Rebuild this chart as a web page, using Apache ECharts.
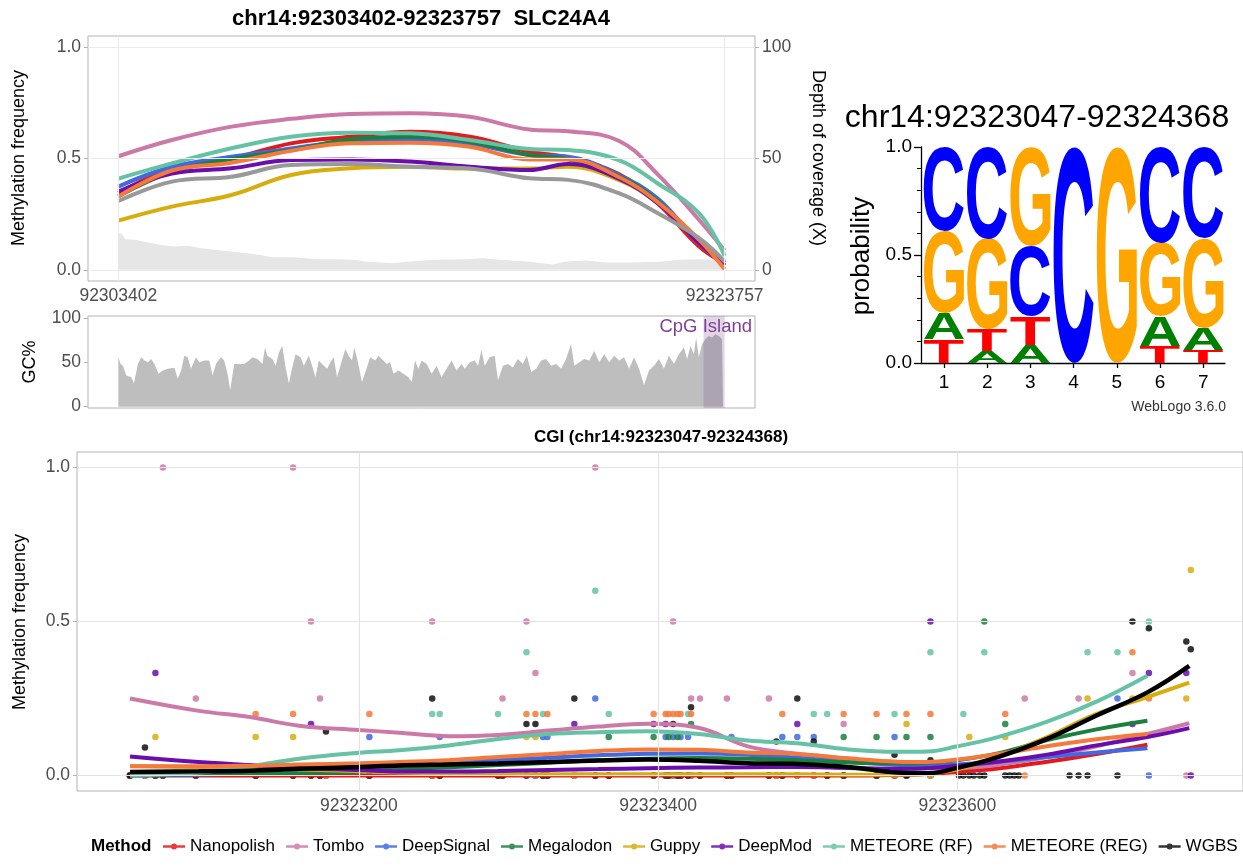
<!DOCTYPE html>
<html><head><meta charset="utf-8">
<script src="https://cdn.jsdelivr.net/npm/echarts@6/dist/echarts.min.js"></script>
<style>html,body{margin:0;padding:0;background:#fff}#c{width:1243px;height:866px}</style>
</head><body><div id="c"></div>
<script>
// ---------------- data ----------------
const methods = ['Nanopolish','Tombo','DeepSignal','Megalodon','Guppy','DeepMod','METEORE (RF)','METEORE (REG)','WGBS'];
const methodColors = ['#E31A1C','#CC79A7','#4169E1','#1B7F3E','#D8AC0C','#6A0DAD','#66C2A5','#F5793A','#000000'];
const topWgbsColor = '#999999';
const regionStart = 92303402, regionEnd = 92323757;
const cgiRange = [92323047, 92324368];

// top panel: smoothed methylation frequency along the region
const topPos = [92303402,92305200,92307200,92309200,92311200,92313200,92315200,92317200,92318500,92320200,92321500,92322900,92323757];
const topNanopolish = [0.345,0.456,0.50,0.568,0.598,0.62,0.598,0.531,0.505,0.43,0.30,0.105,0.03];
const topTombo      = [0.51,0.583,0.643,0.678,0.70,0.703,0.687,0.63,0.622,0.58,0.43,0.224,0.087];
const topDeepSignal = [0.374,0.463,0.508,0.545,0.578,0.586,0.565,0.516,0.508,0.426,0.321,0.12,0.03];
const topMegalodon  = [0.33,0.44,0.498,0.537,0.586,0.598,0.575,0.516,0.496,0.42,0.31,0.12,0.02];
const topGuppy      = [0.221,0.284,0.336,0.426,0.456,0.463,0.455,0.455,0.463,0.404,0.30,0.12,0.02];
const topDeepMod    = [0.351,0.433,0.456,0.493,0.496,0.486,0.463,0.448,0.475,0.41,0.30,0.12,0.02];
const topRF         = [0.41,0.478,0.546,0.598,0.616,0.613,0.583,0.543,0.538,0.493,0.389,0.254,0.063];
const topREG        = [0.329,0.446,0.481,0.535,0.568,0.571,0.553,0.496,0.496,0.417,0.305,0.135,0.003];
const topWGBS       = [0.309,0.396,0.418,0.471,0.475,0.463,0.455,0.411,0.404,0.344,0.255,0.142,0.037];

// depth of coverage
const covPos = [92303402,92303502,92303636,92303948,92304394,92304839,92305285,92305731,92306176,92306845,92307513,92308182,92308405,92308627,92309296,92310075,92310632,92311301,92311747,92312638,92313195,92313975,92315089,92315646,92316203,92317096,92317985,92318432,92319100,92319769,92320660,92321551,92322220,92322888,92323334,92323724];
const covVal = [16.4,16.4,13.7,13.5,12.3,11.2,10.5,10.8,9.7,8.7,7.8,6.7,6.0,5.7,5.7,4.8,4.8,4.5,3.6,3.0,3.8,4.5,4.8,5.2,4.5,3.8,2.4,3.8,4.2,3.3,3.3,3.6,4.5,4.8,4.5,4.2];

// GC%
const gcPos = [92303402,92303480,92303558,92303669,92303837,92303926,92304059,92304171,92304282,92304394,92304505,92304616,92304750,92304895,92305062,92305285,92305396,92305508,92305619,92305731,92305842,92306009,92306120,92306288,92306455,92306566,92306678,92306845,92306956,92307068,92307157,92307290,92307457,92307625,92307792,92307903,92308070,92308237,92308327,92308404,92308572,92308683,92308795,92308906,92309017,92309129,92309218,92309351,92309519,92309630,92309797,92309909,92310020,92310131,92310243,92310410,92310521,92310633,92310744,92310856,92311023,92311134,92311246,92311323,92311435,92311580,92311747,92311858,92312025,92312137,92312248,92312415,92312527,92312638,92312805,92312972,92313140,92313251,92313362,92313474,92313585,92313752,92313920,92314087,92314254,92314421,92314588,92314755,92314922,92315034,92315201,92315368,92315479,92315591,92315702,92315869,92316036,92316148,92316315,92316482,92316649,92316816,92316983,92317117,92317262,92317429,92317596,92317763,92317931,92318098,92318265,92318432,92318599,92318710,92318877,92319044,92319212,92319379,92319546,92319713,92319880,92320047,92320214,92320381,92320548,92320716,92320883,92321050,92321217,92321384,92321551,92321718,92321885,92322053,92322220,92322387,92322498,92322610,92322721,92322799,92322888,92322999,92323111,92323222,92323334,92323445,92323557,92323668,92323700];
const gcVal = [55.5,48,46,35,33,26,48,55.5,52,50,53.7,48,37,40.7,42.6,43.7,31.5,40.7,57.4,55.5,42.6,55.5,50,52,52,35,48,55.5,52,37,18.5,48,48,48,52,55.5,53.7,48,66.7,57.4,53.7,46,61,68.5,44,26,40.7,59,55.5,46,57.4,46,33,52,48,42.6,50,55.5,33,46,64.8,57.4,52,66.7,52,27.8,44,55.5,52,57.4,53.7,48,50,37,40.7,37,33,27.8,52,42.6,52,48,37,46,33,42.6,52,40.7,48,42.6,50,52,46,63.7,46,55.5,57.4,29.6,46,48,44,53.7,48,57.4,38.9,42.6,52,53.7,46,48,42.6,53.7,70.4,46,50,53.7,52,63,50,59,50,57.4,52,55.5,42.6,55.5,42.6,24,40.7,46,53.7,42.6,57.4,48,59,66.7,53.7,68.5,59,77.8,55.5,70.4,76,79.6,77.8,81.5,79.6,76,74];

// sequence logo
const logoPositions = [1,2,3,4,5,6,7];
const logoProbC = [0.39,0.426,0.324,1.0,0,0.444,0.421];
const logoProbG = [0.38,0.42,0.46,0,1.0,0.34,0.417];
const logoProbA = [0.12,0.054,0.085,0,0,0.139,0.10];
const logoProbT = [0.11,0.10,0.131,0,0,0.077,0.062];
const logoTicks = [1,2,3,4,5,6,7];

// CGI panel: CpG sites and per-method methylation frequency (null = no call)
const n = null;
const cgiSites = [92323047,92323057,92323064,92323069,92323091,92323131,92323156,92323168,92323174,92323178,
  92323207,92323249,92323254,92323293,92323296,92323312,92323318,92323323,92323326,92323344,
  92323358,92323367,92323397,92323405,92323407,92323410,92323413,92323415,92323420,92323422,
  92323428,92323446,92323449,92323474,92323479,92323483,92323493,92323504,92323513,92323524,
  92323546,92323558,92323566,92323582,92323601,92323604,92323608,92323611,92323615,92323618,
  92323632,92323635,92323638,92323641,92323645,92323675,92323681,92323687,92323707,92323717,
  92323728,92323753,92323756];
const cgiNanopolish = [0,0,0,0,0,0,0,0,0,0, 0,0,0,0,0,0,0,0,0,0, 0,0,0,0,0,0,0,0,0,0, 0,0,0,0,0,0,0,0,0,0, 0,0,0,0,n,n,n,n,n,n, n,n,n,n,n,n,n,n,n,n, n,n,n];
const cgiTombo = [0,0,0,1,0.25,0,1,0.5,0.25,0, 0,0.5,0,0,0.25,0.5,0.333,0,0,0, 1,0,0,0,0,0.5,0,0,0,0.25, 0.25,0.25,0,0.25,0,0,0,0,0,0.167, 0,0,0,0,n,n,n,n,n,n, n,n,n,n,0.25,n,0.25,n,n,0.333, n,0,n];
const cgiDeepSignal = [0,0,0,0,0,0,0,0,0,0, 0.125,0,0.125,0,0,0,0,0.125,0.125,0, 0.25,0,0,0.125,0,0.125,0,0.125,0.125,0, 0,0,0.125,0,0,0.125,0.125,0.125,0,0, 0,0.125,0,0,n,n,n,n,n,n, n,n,n,n,n,n,n,n,0.25,n, 0,n,n];
const cgiMegalodon = [0,0,0,0,0,0,0,0,0,0, 0,0,0,0,0,0,0,0,0,0, 0,0.125,0.125,0,0.125,0,0.125,0,0,0.167, 0,0,0,0,0,0,0,0,0,0.125, 0.125,0,0.125,0.125,n,n,n,n,n,0.5, 0.167,n,n,n,n,n,n,n,n,n, n,n,n];
const cgiGuppy = [0,0,0.125,0,0,0.125,0.125,0,0,0, 0,0,0,0,0,0.125,0.125,0,0,0, 0,0,0,0,0,0,0,0,0,0, 0,0,0,0,0,0,0,0,0,0, 0,0,0.167,0,n,n,0.125,n,n,n, 0.125,n,n,n,n,n,n,0.25,n,0.25, n,0.25,0.667];
const cgiDeepMod = [0,0,0.333,0,0,0,0,0.167,0,0, 0,0,0,0,0,0,0,0,0,0.167, 0,0,0.167,0.167,0,0,0,0,0,0, 0,0,0,0,0,0,0.167,0,0,0, 0,0,0,0.5,n,n,n,n,n,n, n,n,n,n,n,n,n,n,n,0.167, 0.333,0.333,0];
const cgiRF = [0,0,0,0,0,0,0,0,0,0, 0,0.2,0.2,0.2,0,0.4,0,0.2,0,0, 0.6,0.2,0,0,0,0,0,0,0.2,0, 0,0,0,0,0,0,0,0.2,0.2,0, 0,0.2,0,0.4,n,0.2,n,n,n,0.4, n,n,n,n,n,n,n,0.4,0.4,n, 0.5,n,n];
const cgiREG = [0,0,0,0,0,0.2,0.2,0,0,0, 0.2,0,0,0,0,0.2,0.2,0,0.2,0, 0,0,0.2,0.2,0.2,0.2,0.2,0.2,0,0.2, 0,0,0,0,0,0.2,0,0,0,0.2, 0.2,0,0.2,0.2,n,n,n,n,n,n, 0.2,n,n,n,0,n,n,n,n,0.4, 0.25,n,n];
const cgiWGBS = [0,0.091,0,0,0,0,0,0,0,0.143, 0,0.25,0,0,0,0.167,0.167,0,0,0.25, 0,0,0,0,0,0.167,0,0,0,0.222, 0,0,0,0,0.111,0,0.25,0.111,0,0, 0,0.068,0,0.05,0,0,0,0,0,0, 0,0,0,0,n,0,0,0,0,0.5, 0.478,0.435,0.41];

// CGI panel: smoothed trends
const cgiLinePos = [92323047,92323093,92323127,92323160,92323200,92323227,92323260,92323293,92323327,92323360,92323393,92323427,92323460,92323493,92323527,92323560,92323580,92323600,92323627,92323660,92323693,92323727,92323755];
const lineNanopolish = [0,0,0,0,0,0,0,0,0,0,0,0,0,0,0,0.002,0.005,0.012,0.023,0.045,0.07,0.1,n];
const lineTombo = [0.25,0.21,0.19,0.162,0.148,0.139,0.128,0.132,0.146,0.159,0.168,0.155,0.095,0.071,0.055,0.035,0.025,0.025,0.035,0.06,0.095,0.135,0.17];
const lineDeepSignal = [0,0.003,0.007,0.012,0.02,0.028,0.038,0.05,0.058,0.066,0.071,0.072,0.068,0.058,0.045,0.035,0.033,0.036,0.045,0.06,0.075,0.089,n];
const lineMegalodon = [0.003,0.005,0.006,0.008,0.012,0.02,0.027,0.034,0.042,0.05,0.055,0.057,0.055,0.05,0.043,0.04,0.042,0.05,0.072,0.115,0.15,0.178,n];
const lineGuppy = [0.031,0.028,0.025,0.02,0.014,0.01,0.007,0.005,0.004,0.004,0.004,0.004,0.004,0.004,0.003,0.003,0.006,0.02,0.06,0.125,0.2,0.255,0.302];
const lineDeepMod = [0.062,0.044,0.034,0.025,0.018,0.013,0.013,0.015,0.018,0.021,0.024,0.026,0.027,0.028,0.025,0.022,0.024,0.032,0.045,0.068,0.098,0.125,0.154];
const lineRF = [0,0.01,0.03,0.055,0.074,0.082,0.098,0.119,0.135,0.141,0.144,0.135,0.114,0.105,0.085,0.077,0.078,0.095,0.125,0.175,0.24,0.324,n];
const lineREG = [0.03,0.03,0.032,0.036,0.04,0.044,0.05,0.06,0.07,0.08,0.085,0.084,0.075,0.07,0.056,0.045,0.044,0.052,0.07,0.095,0.118,0.135,n];
const lineWGBS = [0.012,0.014,0.016,0.022,0.028,0.033,0.036,0.039,0.044,0.049,0.052,0.048,0.04,0.038,0.028,0.01,0.008,0.025,0.06,0.119,0.195,0.27,0.356];

const topTicksY = [0,0.5,1];
const depthTicks = [0,50,100];
const gcTicks = [0,50,100];
const cgiTicksX = [92323200,92323400,92323600];

// ---------------- build ----------------
const FONT = '"Liberation Sans", Arial, Helvetica, sans-serif';
const topSeriesVals = [topNanopolish,topTombo,topDeepSignal,topMegalodon,topGuppy,topDeepMod,topRF,topREG,topWGBS];
const cgiPointVals = [cgiNanopolish,cgiTombo,cgiDeepSignal,cgiMegalodon,cgiGuppy,cgiDeepMod,cgiRF,cgiREG,cgiWGBS];
const cgiLineVals = [lineNanopolish,lineTombo,lineDeepSignal,lineMegalodon,lineGuppy,lineDeepMod,lineRF,lineREG,lineWGBS];
const zip = (xs, ys) => xs.map((x,i)=>[x, ys[i]]).filter(p => p[1] !== null && p[1] !== undefined);

const axisGrey = '#B3B3B3', labelGrey = '#4D4D4D', gridGrey = '#EBEBEB';
const fmt1 = v => (Math.round(v*10)/10).toFixed(1);
const fmtInt = v => String(Math.round(v));

function ggAxisX(grid, min, max, ticks, showLabels) {
  return {type:'value', gridIndex:grid, min, max, axisLine:{show:false},
    axisTick:{show:!!ticks, customValues:ticks||undefined, length:4, lineStyle:{color:axisGrey}},
    axisLabel:{show:!!showLabels, customValues:ticks||undefined, formatter:fmtInt, color:labelGrey, fontSize:17.5, fontFamily:FONT, margin:6},
    splitLine:{show:false}};
}
function ggAxisY(grid, min, max, ticks, fmt, pos) {
  return {type:'value', gridIndex:grid, min, max, position:pos||'left', axisLine:{show:false},
    axisTick:{show:true, customValues:ticks, length:4, lineStyle:{color:axisGrey}},
    axisLabel:{customValues:ticks, formatter:fmt, color:labelGrey, fontSize:17.5, fontFamily:FONT, margin:7},
    splitLine:{show:false}};
}

// logo items
const letterColors = {C:'#0000FF', G:'#FFA500', A:'#008000', T:'#FF0000'};
const letterList = ['C','G','A','T'];
const LOGO_FONT = 'bold 100px ' + FONT;
const mctx = document.createElement('canvas').getContext('2d');
mctx.font = LOGO_FONT; mctx.textBaseline = 'middle'; mctx.textAlign = 'center';
const letterMetrics = {};
letterList.forEach(L => {
  const m = mctx.measureText(L);
  letterMetrics[L] = {l:m.actualBoundingBoxLeft, r:m.actualBoundingBoxRight, a:m.actualBoundingBoxAscent, d:m.actualBoundingBoxDescent};
});
const logoItems = [];
logoPositions.forEach((p, i) => {
  const probs = [['C',logoProbC[i]],['G',logoProbG[i]],['A',logoProbA[i]],['T',logoProbT[i]]]
    .filter(d => d[1] > 0).sort((a,b) => a[1]-b[1]);
  let base = 0;
  probs.forEach(d => { logoItems.push([p, base, d[1], letterList.indexOf(d[0])]); base += d[1]; });
});

function renderLetter(params, api) {
  const col = api.value(0), base = api.value(1), h = api.value(2), letter = letterList[api.value(3)];
  const p0 = api.coord([col - 0.465, base]);
  const p1 = api.coord([col + 0.465, base + h]);
  const w = p1[0]-p0[0], hh = p0[1]-p1[1];
  if (hh < 0.5) return null;
  const mm = letterMetrics[letter];
  const sx = w / (mm.l + mm.r), sy = hh / (mm.a + mm.d);
  const cx = (p0[0]+p1[0])/2 - sx*(mm.r - mm.l)/2;
  const cy = (p0[1]+p1[1])/2 - sy*(mm.d - mm.a)/2;
  return {type:'text', x:cx, y:cy, scaleX:sx, scaleY:sy,
    style:{text:letter, fill:letterColors[letter], font:LOGO_FONT,
      textAlign:'center', textVerticalAlign:'middle', align:'center', verticalAlign:'middle'}};
}

function renderCgiRect(params, api) {
  const cs = params.coordSys;
  const x0 = api.coord([api.value(0), 0])[0];
  const x1 = api.coord([api.value(1), 0])[0];
  return {type:'rect', shape:{x:x0, y:cs.y, width:x1-x0, height:cs.height},
    style:{fill:'rgba(120,70,140,0.22)'}};
}

const series = [];
series.push({type:'line', name:'coverage', xAxisIndex:0, yAxisIndex:1, data:zip(covPos, covVal),
  symbol:'none', lineStyle:{width:0}, areaStyle:{color:'#E6E6E6', opacity:1}, z:1, silent:true,
  markLine:{silent:true, symbol:['none','none'], label:{show:false}, animation:false,
    lineStyle:{color:gridGrey, width:1.2, type:'solid'},
    data:[{yAxis:0},{yAxis:50},{yAxis:100},{xAxis:regionStart},{xAxis:regionEnd}]}});
methods.forEach((m, i) => {
  series.push({type:'line', name:'top '+m, xAxisIndex:0, yAxisIndex:0, data:zip(topPos, topSeriesVals[i]),
    smooth:0.4, symbol:'none', lineStyle:{width:4, color: m==='WGBS'?topWgbsColor:methodColors[i]}, z:3, silent:true});
});
series.push({type:'line', name:'gc', xAxisIndex:1, yAxisIndex:2, data:zip(gcPos, gcVal),
  symbol:'none', lineStyle:{width:0}, areaStyle:{color:'#BEBEBE', opacity:1}, z:2, silent:true});
series.push({type:'custom', name:'cpg', xAxisIndex:1, yAxisIndex:2, renderItem:renderCgiRect,
  data:[[cgiRange[0], Math.min(cgiRange[1], regionEnd)]], z:4, silent:true, clip:true});
series.push({type:'custom', name:'logo', xAxisIndex:2, yAxisIndex:3, renderItem:renderLetter, data:logoItems, z:3, silent:true, clip:false});
methods.forEach((m, i) => {
  const s = {type:'scatter', name:m, xAxisIndex:3, yAxisIndex:4, data:zip(cgiSites, cgiPointVals[i]),
    symbol:'circle', symbolSize:6.5, itemStyle:{color:methodColors[i], opacity: m==='WGBS'?0.8:0.85}, z:2, silent:true};
  if (i === 0) {
    s.markLine = {silent:true, symbol:['none','none'], label:{show:false}, animation:false,
      lineStyle:{color:'#E3E3E3', width:1.2, type:'solid'},
      data:[{yAxis:0},{yAxis:0.5},{yAxis:1},{xAxis:cgiTicksX[0]},{xAxis:cgiTicksX[1]},{xAxis:cgiTicksX[2]}]};
  }
  series.push(s);
});
methods.forEach((m, i) => {
  series.push({type:'line', name:m, xAxisIndex:3, yAxisIndex:4, data:zip(cgiLinePos, cgiLineVals[i]),
    smooth:0.4, symbol:'none', lineStyle:{width: m==='WGBS'?4.5:4, color:methodColors[i]}, itemStyle:{color:methodColors[i]}, z:3, silent:true});
});

const legendIcon = 'path://M0,2.7H22V5.3H0Z M8,4A3,3,0,1,1,14,4A3,3,0,1,1,8,4Z';
const T = (x, y, text, font, fill, align, rot) => ({type:'text', x, y, rotation:rot||0,
  style:{text, font: font+' '+FONT, fill, textAlign:align, textVerticalAlign:'middle', align, verticalAlign:'middle'}, z:10});

const option = {
  animation:false,
  backgroundColor:'#ffffff',
  textStyle:{fontFamily:FONT},
  grid:[
    {left:88, top:36, width:667, height:245, show:true, borderColor:axisGrey, borderWidth:1, backgroundColor:'transparent'},
    {left:88, top:316, width:667, height:92, show:true, borderColor:axisGrey, borderWidth:1, backgroundColor:'transparent'},
    {left:921, top:147, width:304, height:216, show:false},
    {left:77, top:452, width:1169, height:339, show:true, borderColor:axisGrey, borderWidth:1, backgroundColor:'transparent'}
  ],
  xAxis:[
    ggAxisX(0, 92302384, 92324775, [regionStart, regionEnd], true),
    ggAxisX(1, 92302384, 92324775, null, false),
    {type:'value', gridIndex:2, min:0.47, max:7.5,
      axisLine:{show:true, lineStyle:{color:'#000', width:1.3}},
      axisTick:{show:true, customValues:logoTicks, length:5, lineStyle:{color:'#000', width:1.3}},
      axisLabel:{customValues:logoTicks, color:'#000', fontSize:19, fontFamily:FONT, margin:10},
      splitLine:{show:false}},
    ggAxisX(3, 92323011.6, 92323790.9, cgiTicksX, true)
  ],
  yAxis:[
    ggAxisY(0, -0.05, 1.05, topTicksY, fmt1, 'left'),
    ggAxisY(0, -5, 105, depthTicks, fmtInt, 'right'),
    ggAxisY(1, -1.5, 102, gcTicks, fmtInt, 'left'),
    {type:'value', gridIndex:2, min:0, max:1, interval:0.5,
      axisLine:{show:true, lineStyle:{color:'#000', width:1.3}},
      axisTick:{show:true, length:7, lineStyle:{color:'#000', width:1.3}},
      minorTick:{show:true, splitNumber:5, length:4, lineStyle:{color:'#000', width:1}},
      axisLabel:{formatter:fmt1, color:'#000', fontSize:19, fontFamily:FONT, margin:9},
      splitLine:{show:false}, minorSplitLine:{show:false}},
    ggAxisY(3, -0.05, 1.05, topTicksY, fmt1, 'left')
  ],
  legend:{show:true, left:163, top:838, padding:0, orient:'horizontal', selectedMode:false,
    itemWidth:22, itemHeight:7, itemGap:11,
    textStyle:{fontSize:17, color:'#000', fontFamily:FONT},
    data:methods.map((m,i)=>({name:m, icon:legendIcon, itemStyle:{color:methodColors[i], borderWidth:0}}))},
  graphic:[
    T(421, 19, 'chr14:92303402-92323757  SLC24A4', 'bold 22px', '#000', 'center'),
    T(19, 158, 'Methylation frequency', '18px', '#000', 'center', Math.PI/2),
    T(818, 158, 'Depth of coverage (X)', '18px', '#000', 'center', -Math.PI/2),
    T(30, 362, 'GC%', '18px', '#000', 'center', Math.PI/2),
    T(752, 327, 'CpG Island', '18.5px', '#7F3F98', 'right'),
    T(1037, 118, 'chr14:92323047-92324368', '32px', '#000', 'center'),
    T(862, 256, 'probability', '26px', '#000', 'center', Math.PI/2),
    T(1226, 407, 'WebLogo 3.6.0', '14px', '#333', 'right'),
    T(661, 437, 'CGI (chr14:92323047-92324368)', 'bold 17px', '#000', 'center'),
    T(20, 622, 'Methylation frequency', '18px', '#000', 'center', Math.PI/2),
    T(91, 846, 'Method', 'bold 17px', '#000', 'left')
  ],
  series
};
const chart = echarts.init(document.getElementById('c'), null, {renderer:'canvas', width:1243, height:866});
chart.setOption(option);
</script></body></html>
